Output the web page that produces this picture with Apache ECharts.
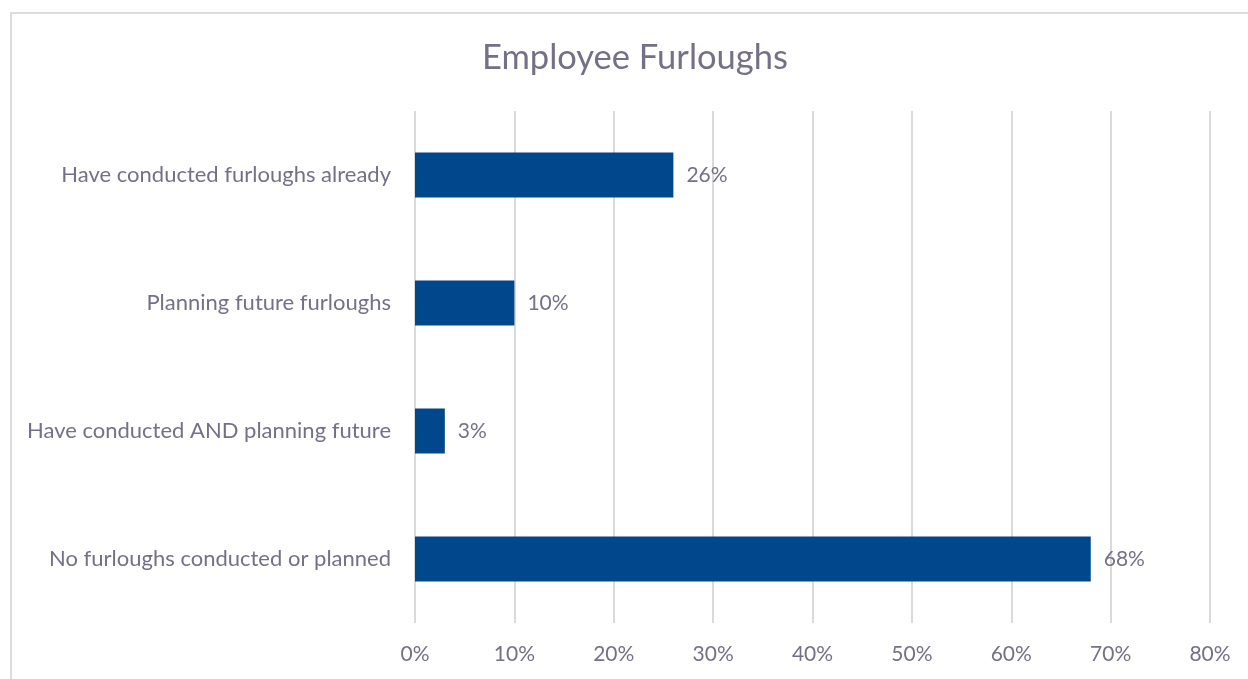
<!DOCTYPE html>
<html>
<head>
<meta charset="utf-8">
<style>
  html, body { margin: 0; padding: 0; background: #ffffff; }
  #chart { width: 1248px; height: 679px; }
</style>
<script src="https://cdn.jsdelivr.net/npm/echarts@6/dist/echarts.min.js"></script>
</head>
<body>
<div id="chart"></div>
<script>
// Survey responses on employee furloughs (percent of respondents)
const categories = [
  'No furloughs conducted or planned',
  'Have conducted AND planning future',
  'Planning future furloughs',
  'Have conducted furloughs already'
];
const values = [68, 3, 10, 26];
const axisTicks = [0, 10, 20, 30, 40, 50, 60, 70, 80];

const textColor = '#767087';
const fontFamily = 'Lato, "Open Sans", sans-serif';

const chart = echarts.init(document.getElementById('chart'), null, { renderer: 'canvas' });
chart.setOption({
  backgroundColor: '#ffffff',
  animation: false,
  title: {
    text: 'Employee Furloughs',
    left: 482,
    top: 40,
    padding: 0,
    textStyle: { color: textColor, fontSize: 34.5, fontWeight: 'normal', fontFamily: fontFamily }
  },
  graphic: [{
    type: 'rect',
    shape: { x: 11, y: 13, width: 1300, height: 700 },
    style: { fill: 'none', stroke: '#dcdce0', lineWidth: 2 },
    silent: true,
    z: -1
  }],
  grid: { left: 415, right: 38, top: 111, bottom: 56, containLabel: false },
  xAxis: {
    type: 'value',
    min: axisTicks[0],
    max: axisTicks[axisTicks.length - 1],
    interval: 10,
    axisLine: { show: false },
    axisTick: { show: false },
    splitLine: { show: true, lineStyle: { color: '#d9d9de', width: 2 } },
    axisLabel: {
      color: textColor, fontSize: 21, fontFamily: fontFamily, margin: 21,
      formatter: v => v + '%'
    }
  },
  yAxis: {
    type: 'category',
    data: categories,
    axisLine: { show: false },
    axisTick: { show: false },
    axisLabel: { color: textColor, fontSize: 22, fontFamily: fontFamily, margin: 24 }
  },
  series: [{
    type: 'bar',
    data: values,
    barWidth: 45,
    itemStyle: { color: '#00478c' },
    label: {
      show: true,
      position: 'right',
      distance: 13,
      color: textColor,
      fontSize: 21,
      fontFamily: fontFamily,
      formatter: p => p.value + '%'
    }
  }]
});
</script>
</body>
</html>
